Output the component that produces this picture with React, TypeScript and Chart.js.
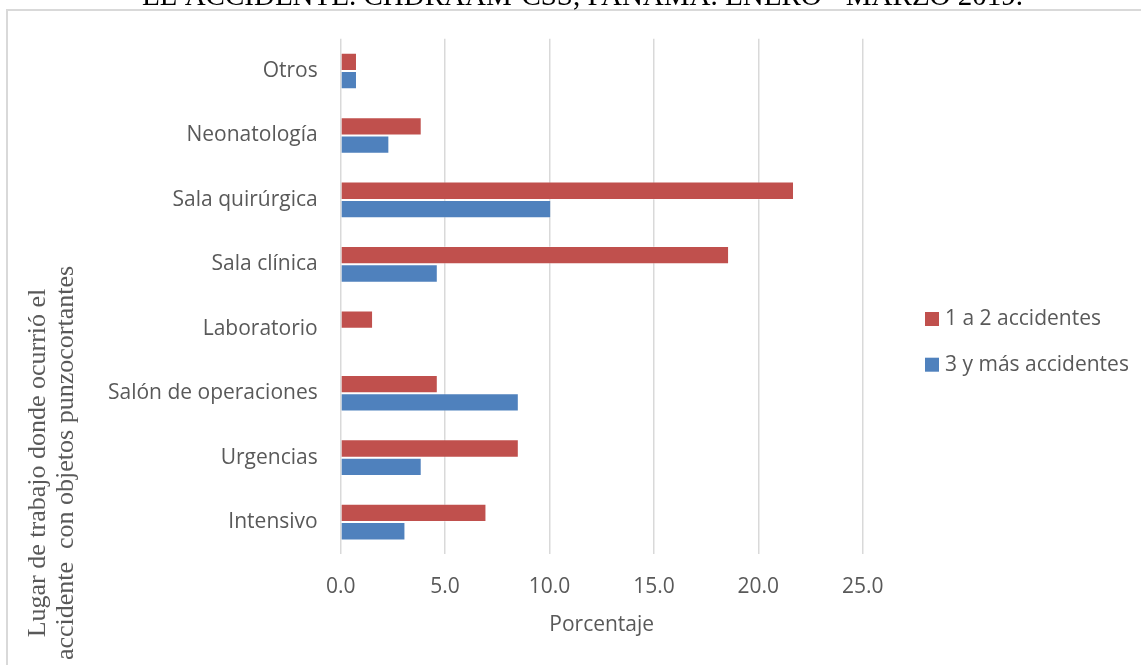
import React, { useEffect, useRef } from "react";
import { Chart, registerables } from "chart.js";

Chart.register(...registerables);

// Work places (top to bottom) and share of needle-stick accidents, in percent
const categories = [
  "Otros",
  "Neonatología",
  "Sala quirúrgica",
  "Sala clínica",
  "Laboratorio",
  "Salón de operaciones",
  "Urgencias",
  "Intensivo",
];
const seriesNames = ["1 a 2 accidentes", "3 y más accidentes"];
const unoADos = [0.78, 3.88, 21.71, 18.6, 1.55, 4.65, 8.53, 6.98];
const tresYMas = [0.78, 2.33, 10.08, 4.65, 0, 8.53, 3.88, 3.1];
const seriesColors = ["#C0504D", "#4F81BD"];

const xTicks = [0, 5, 10, 15, 20, 25];
const xAxisTitle = "Porcentaje";
const yAxisTitle = ["Lugar de trabajo donde ocurrió el", "accidente  con objetos punzocortantes"];
const captionText = "EL ACCIDENTE. CHDRAAM-CSS, PANAMÁ. ENERO - MARZO 2019.";

const W = 1141;
const H = 665;
const SANS = "'Open Sans', sans-serif";
const SERIF = "'Liberation Serif', 'Times New Roman', serif";
const TEXT = "#595959";
const GRID = "#D9D9D9";

// Frame, caption, rotated axis title and legend around the plot
const decorPlugin = {
  id: "decor",
  beforeDraw(chart: Chart) {
    const ctx = chart.ctx;
    ctx.save();
    ctx.strokeStyle = GRID;
    ctx.lineWidth = 2;
    ctx.strokeRect(7, 10, W + 20, H + 20);
    ctx.restore();
  },
  afterDraw(chart: Chart) {
    const ctx = chart.ctx;
    ctx.save();
    // caption line above the frame
    ctx.fillStyle = "#000";
    ctx.font = `29px ${SERIF}`;
    ctx.textAlign = "left";
    ctx.textBaseline = "alphabetic";
    ctx.fillText(captionText, 142, 4.5);

    // vertical axis title, two lines
    ctx.translate(0, 463);
    ctx.rotate(-Math.PI / 2);
    ctx.fillStyle = TEXT;
    ctx.font = `26px ${SERIF}`;
    ctx.textAlign = "center";
    ctx.textBaseline = "middle";
    ctx.fillText(yAxisTitle[0], 0, 38);
    ctx.fillText(yAxisTitle[1], 0, 66);
    ctx.restore();

    // legend
    ctx.save();
    ctx.font = `21px ${SANS}`;
    ctx.textAlign = "left";
    ctx.textBaseline = "middle";
    chart.data.datasets.forEach((ds, i) => {
      const top = 312 + i * 45.7;
      ctx.fillStyle = ds.backgroundColor as string;
      ctx.fillRect(925, top, 14, 14);
      ctx.fillStyle = TEXT;
      ctx.fillText(ds.label as string, 945, top + 7.5);
    });
    ctx.restore();
  },
};

export default function App() {
  const canvasRef = useRef<HTMLCanvasElement | null>(null);

  useEffect(() => {
    if (!canvasRef.current) return;
    const chart = new Chart(canvasRef.current, {
      type: "bar",
      data: {
        labels: categories,
        datasets: [
          {
            label: seriesNames[0],
            data: unoADos,
            backgroundColor: seriesColors[0],
            borderColor: "rgba(255,255,255,0.3)",
            borderWidth: 1,
          },
          {
            label: seriesNames[1],
            data: tresYMas,
            backgroundColor: seriesColors[1],
            borderColor: "rgba(255,255,255,0.3)",
            borderWidth: 1,
          },
        ],
      },
      options: {
        indexAxis: "y",
        responsive: false,
        animation: false,
        devicePixelRatio: 1,
        layout: { padding: { left: 0, right: W - 862.7, top: 38.8, bottom: 0 } },
        datasets: { bar: { categoryPercentage: 0.568, barPercentage: 1 } },
        plugins: { legend: { display: false }, tooltip: { enabled: false } },
        scales: {
          x: {
            min: 0,
            max: 25,
            afterFit: (s: any) => {
              s.height = H - 554.3;
            },
            afterBuildTicks: (s: any) => {
              s.ticks = xTicks.map((v) => ({ value: v }));
            },
            grid: { color: GRID, lineWidth: 1.5, drawTicks: false },
            border: { display: false },
            ticks: {
              padding: 20,
              color: TEXT,
              font: { family: SANS, size: 21 },
              callback: (v: any) => Number(v).toFixed(1),
            },
            title: {
              display: true,
              text: xAxisTitle,
              color: TEXT,
              font: { family: SANS, size: 21 },
              padding: { top: 0, bottom: 27.4 },
            },
          },
          y: {
            afterFit: (s: any) => {
              s.width = 340.7;
            },
            grid: { display: false, drawTicks: false },
            border: { display: false },
            ticks: {
              padding: 23,
              color: TEXT,
              font: { family: SANS, size: 21 },
            },
          },
        },
      },
      plugins: [decorPlugin],
    });
    return () => chart.destroy();
  }, []);

  return (
    <div style={{ position: "absolute", left: 0, top: 0, width: W, height: H, background: "#fff" }}>
      <canvas ref={canvasRef} width={W} height={H} style={{ display: "block" }} />
    </div>
  );
}
